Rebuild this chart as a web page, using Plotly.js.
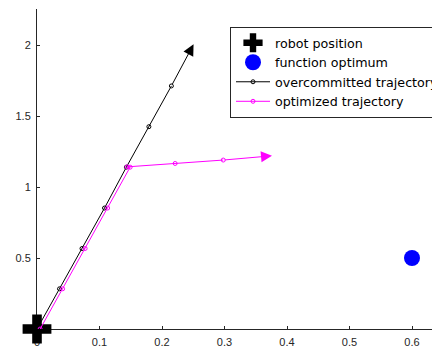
<!DOCTYPE html>
<html>
<head>
<meta charset="utf-8">
<script src="https://cdn.plot.ly/plotly-3.0.1.min.js"></script>
<style>html,body{margin:0;padding:0;background:#fff;}#plot{width:432px;height:347px;}</style>
</head>
<body>
<div id="plot"></div>
<script>
// Data
const robotX = [0];
const robotY = [0];
const optimumX = [0.6];
const optimumY = [0.5];
const overX = [0, 0.036, 0.072, 0.108, 0.143, 0.179, 0.215];
const overY = [0, 0.283, 0.567, 0.852, 1.14, 1.425, 1.712];
const overTip = [0.2505, 2.005];
const optX = [0.005, 0.041, 0.077, 0.113, 0.149, 0.144, 0.221, 0.298];
const optY = [0, 0.283, 0.567, 0.852, 1.14, 1.142, 1.166, 1.19];
const optTip = [0.376, 1.22];
const xTicks = [0, 0.1, 0.2, 0.3, 0.4, 0.5, 0.6];
const yTicks = [0, 0.5, 1, 1.5, 2];
const names = ['robot position', 'function optimum', 'overcommitted trajectory', 'optimized trajectory'];

const traces = [
  {x: robotX, y: robotY, type: 'scatter', mode: 'markers', name: names[0],
   marker: {symbol: 'cross', size: 24, color: '#000'}, cliponaxis: false},
  {x: optimumX, y: optimumY, type: 'scatter', mode: 'markers', name: names[1],
   marker: {symbol: 'circle', size: 16, color: '#0000ff'}, cliponaxis: false},
  {x: overX, y: overY, type: 'scatter', mode: 'lines+markers', name: names[2],
   line: {color: '#000', width: 1},
   marker: {symbol: 'circle-open', size: 4, color: '#000', line: {width: 1}}},
  {x: optX, y: optY, type: 'scatter', mode: 'lines+markers', name: names[3],
   line: {color: '#ff00ff', width: 1},
   marker: {symbol: 'circle-open', size: 4, color: '#ff00ff', line: {width: 1}}}
];

function arrow(tail, tip, color) {
  return {x: tip[0], y: tip[1], ax: tail[0], ay: tail[1], xref: 'x', yref: 'y',
    axref: 'x', ayref: 'y', text: '', showarrow: true, arrowhead: 2,
    arrowsize: 2.2, arrowwidth: 1, arrowcolor: color, standoff: 0, startstandoff: 0};
}

const layout = {
  width: 432, height: 347,
  margin: {l: 37, r: 0, t: 9, b: 18, autoexpand: false},
  paper_bgcolor: '#fff', plot_bgcolor: '#fff',
  font: {family: 'Liberation Sans, Arial, sans-serif', size: 11, color: '#262626'},
  showlegend: true,
  legend: {x: (230 - 37) / 395, y: (329 - 27) / 320, xanchor: 'left', yanchor: 'top',
    bgcolor: '#fff', bordercolor: '#262626', borderwidth: 1, itemwidth: 34,
    font: {family: 'DejaVu Sans, sans-serif', size: 12.7, color: '#000'}},
  xaxis: {range: [0, 0.632], tickvals: xTicks, ticks: 'inside', ticklen: 3,
    tickcolor: '#262626', showline: true, linecolor: '#262626', linewidth: 1,
    showgrid: false, zeroline: false, layer: 'below traces', fixedrange: true,
    ticklabelstandoff: 3, automargin: false},
  yaxis: {range: [0, 2.254], tickvals: yTicks, ticks: 'inside', ticklen: 3,
    tickcolor: '#262626', showline: true, linecolor: '#262626', linewidth: 1,
    showgrid: false, zeroline: false, layer: 'below traces', fixedrange: true,
    ticklabelstandoff: 3, automargin: false},
  annotations: [
    arrow([overX[overX.length-1], overY[overY.length-1]], overTip, '#000'),
    arrow([optX[optX.length-1], optY[optY.length-1]], optTip, '#ff00ff')
  ]
};

Plotly.newPlot('plot', traces, layout, {displayModeBar: false, staticPlot: true});
</script>
</body>
</html>
